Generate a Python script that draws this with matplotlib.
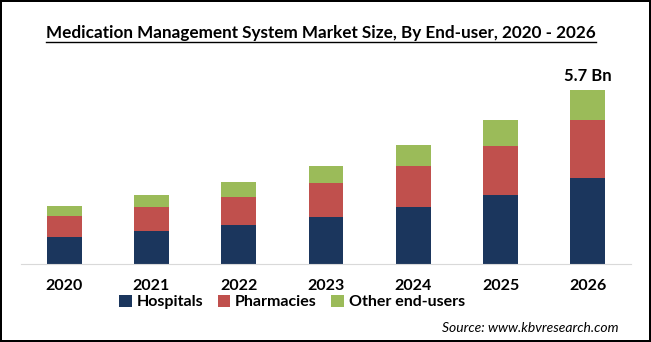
import numpy as np
import matplotlib.pyplot as plt

# Data (USD Bn)
years = ['2020', '2021', '2022', '2023', '2024', '2025', '2026']
hospitals = [0.88, 1.08, 1.28, 1.54, 1.87, 2.26, 2.80]
pharmacies = [0.69, 0.79, 0.92, 1.11, 1.34, 1.60, 1.92]
others = [0.33, 0.39, 0.49, 0.56, 0.69, 0.85, 0.98]
series_names = ['Hospitals', 'Pharmacies', 'Other end-users']
colors = ['#1B365D', '#C0504D', '#9BBB59']

plt.rcParams['font.family'] = ['Lato', 'DejaVu Sans']

W, H = 651, 342
fig = plt.figure(figsize=(W / 100, H / 100), dpi=100)
fig.patch.set_facecolor('white')
fig.patch.set_edgecolor('black')
fig.patch.set_linewidth(1.5)

ax = fig.add_axes([20.5 / W, 1 - 264 / H, 611 / W, 204 / H])
x = np.arange(len(years))
bottom = np.zeros(len(years))
for vals, name, c in zip([hospitals, pharmacies, others], series_names, colors):
    ax.bar(x, vals, width=0.4, bottom=bottom, color=c, label=name)
    bottom += np.array(vals)

ax.set_xlim(-0.5, len(years) - 0.5)
ax.set_ylim(0, 6.68)
ax.set_yticks([])
ax.set_xticks(x)
ax.set_xticklabels(years, fontsize=11.5, fontweight='bold')
ax.tick_params(axis='x', length=0, pad=11)
for s in ['top', 'right', 'left']:
    ax.spines[s].set_visible(False)
ax.spines['bottom'].set_color('#D9D9D9')

ax.text(x[-1], bottom[-1] + 0.18, f'{bottom[-1]:.1f} Bn', ha='center', va='bottom',
        fontsize=12, fontweight='bold')

leg = fig.legend(loc='center', bbox_to_anchor=(292 / W, 1 - 302 / H), ncol=3,
                 frameon=False, fontsize=11.5, handlelength=0.8, handleheight=0.8,
                 handletextpad=0.3, columnspacing=0.9)
for t in leg.get_texts():
    t.set_fontweight('bold')

title = fig.text(321 / W, 1 - 33 / H,
                 'Medication Management System Market Size, By End-user, 2020 - 2026',
                 ha='center', va='center', fontsize=12.3, fontweight='bold')

fig.text(619 / W, 1 - 328 / H, 'Source: www.kbvresearch.com', ha='right', va='center',
         fontsize=10, style='italic')

# underline the title
fig.canvas.draw()
bb = title.get_window_extent().transformed(fig.transFigure.inverted())
fig.add_artist(plt.Line2D([bb.x0, bb.x1], [bb.y0 - 0.004, bb.y0 - 0.004],
                          transform=fig.transFigure, color='black', linewidth=1))

fig.savefig('out.png', dpi=100, facecolor=fig.get_facecolor(), edgecolor=fig.get_edgecolor())
